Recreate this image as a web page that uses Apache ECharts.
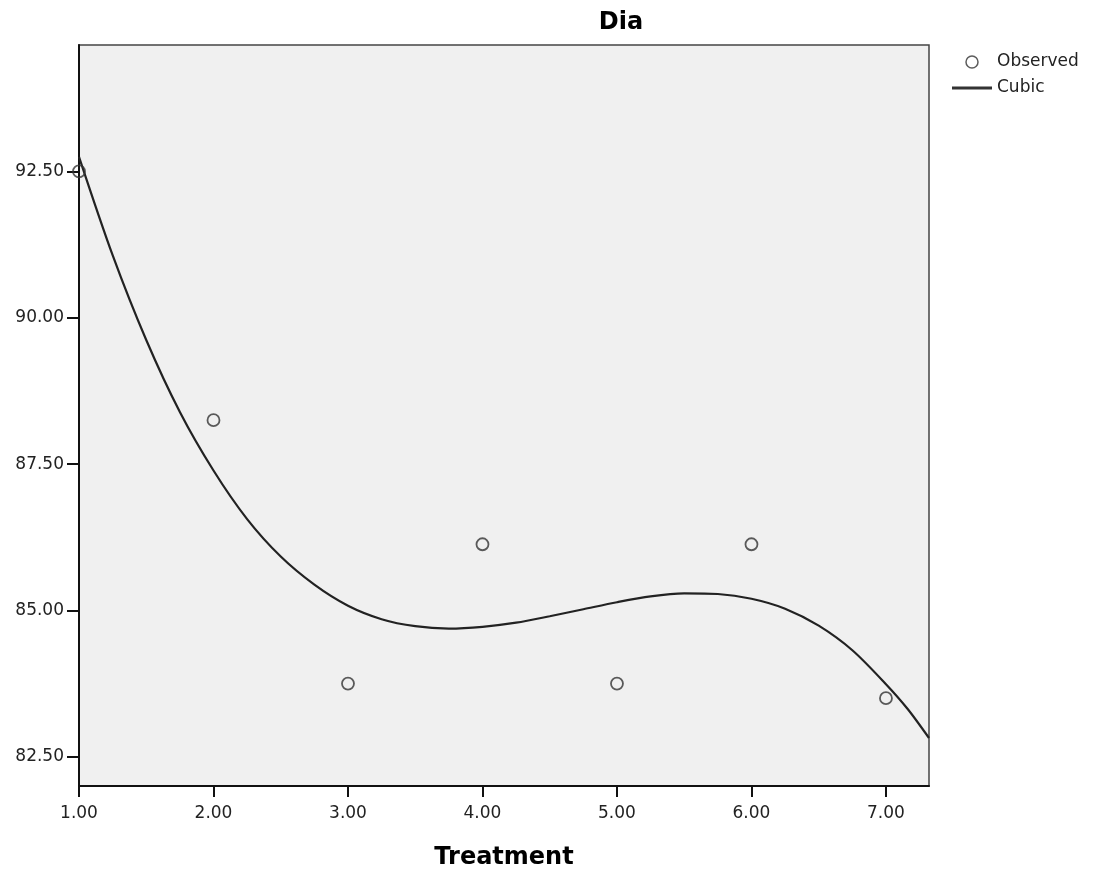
<!DOCTYPE html>
<html>
<head>
<meta charset="utf-8">
<script src="https://cdn.jsdelivr.net/npm/echarts@6/dist/echarts.min.js"></script>
<style>
  html, body { margin: 0; padding: 0; background: #ffffff; }
  #chart { width: 1099px; height: 875px; }
</style>
</head>
<body>
<div id="chart"></div>
<script>
// Observed data
const treatment = [1, 2, 3, 4, 5, 6, 7];
const observed = [92.5, 88.25, 83.75, 86.13, 83.75, 86.13, 83.5];

// Cubic fit curve
const cubicX = [1.0, 1.25, 1.5, 1.75, 2.0, 2.25, 2.5, 2.75, 3.0, 3.25, 3.5, 3.75, 4.0, 4.25, 4.5, 4.75, 5.0, 5.25, 5.5, 5.75, 6.0, 6.25, 6.5, 6.75, 7.0, 7.16, 7.32];
const cubicY = [92.75, 91.07, 89.62, 88.39, 87.39, 86.56, 85.92, 85.44, 85.08, 84.85, 84.73, 84.69, 84.72, 84.79, 84.90, 85.02, 85.14, 85.24, 85.29, 85.28, 85.20, 85.03, 84.74, 84.32, 83.74, 83.32, 82.82];

// Tick labels
const xTicks = [1, 2, 3, 4, 5, 6, 7];
const yTicks = [82.5, 85, 87.5, 90, 92.5];

const FONT = 'DejaVu Sans';

const chart = echarts.init(document.getElementById('chart'), null, { renderer: 'canvas' });

chart.setOption({
  animation: false,
  backgroundColor: '#ffffff',
  title: {
    text: 'Dia',
    left: 621,
    top: 11,
    textAlign: 'center',
    padding: 0,
    textStyle: { fontFamily: FONT, fontSize: 24, fontWeight: 'bold', color: '#000' }
  },
  legend: {
    orient: 'vertical',
    left: 952,
    top: 52,
    padding: 0,
    itemWidth: 40,
    itemHeight: 12,
    itemGap: 6,
    textStyle: { fontFamily: FONT, fontSize: 17, color: '#222', lineHeight: 20 },
    data: [
      { name: 'Observed', icon: 'circle', itemStyle: { color: 'transparent', borderColor: '#333', borderWidth: 1.5 } },
      { name: 'Cubic', icon: 'path://M0,4.6 L40,4.6 L40,7.4 L0,7.4 Z M0,0 L0,0 M0,12 L0,12 M40,0 L40,0',
        itemStyle: { color: '#333', borderWidth: 0 } }
    ]
  },
  grid: {
    left: 79,
    right: 170,
    top: 45,
    bottom: 88,
    show: true,
    backgroundColor: '#f0f0f0',
    borderColor: '#444',
    borderWidth: 1.5
  },
  xAxis: {
    type: 'value',
    min: 1,
    max: 7.32,
    name: 'Treatment',
    nameLocation: 'middle',
    nameGap: 60,
    nameTextStyle: { fontFamily: FONT, fontSize: 24, fontWeight: 'bold', color: '#000' },
    axisLine: { show: true, onZero: false, lineStyle: { color: '#111', width: 2 } },
    axisTick: { show: true, length: 11, customValues: xTicks, lineStyle: { color: '#111', width: 2 } },
    axisLabel: {
      customValues: xTicks,
      margin: 19,
      fontFamily: FONT,
      fontSize: 17,
      color: '#222',
      formatter: v => v.toFixed(2)
    },
    splitLine: { show: false }
  },
  yAxis: {
    type: 'value',
    min: 82.0,
    max: 94.66,
    axisLine: { show: true, onZero: false, lineStyle: { color: '#111', width: 2 } },
    axisTick: { show: true, length: 12, customValues: yTicks, lineStyle: { color: '#111', width: 2 } },
    axisLabel: {
      customValues: yTicks,
      margin: 15,
      fontFamily: FONT,
      fontSize: 17,
      color: '#222',
      formatter: v => v.toFixed(2)
    },
    splitLine: { show: false }
  },
  series: [
    {
      name: 'Cubic',
      type: 'line',
      data: cubicX.map((x, i) => [x, cubicY[i]]),
      smooth: 0.3,
      showSymbol: false,
      symbol: 'none',
      clip: true,
      lineStyle: { color: '#222', width: 2.2 },
      itemStyle: { color: '#222' },
      z: 2
    },
    {
      name: 'Observed',
      type: 'scatter',
      data: treatment.map((x, i) => [x, observed[i]]),
      symbol: 'circle',
      symbolSize: 12,
      itemStyle: { color: 'transparent', borderColor: '#333', borderWidth: 1.8 },
      z: 3
    }
  ]
});
</script>
</body>
</html>
